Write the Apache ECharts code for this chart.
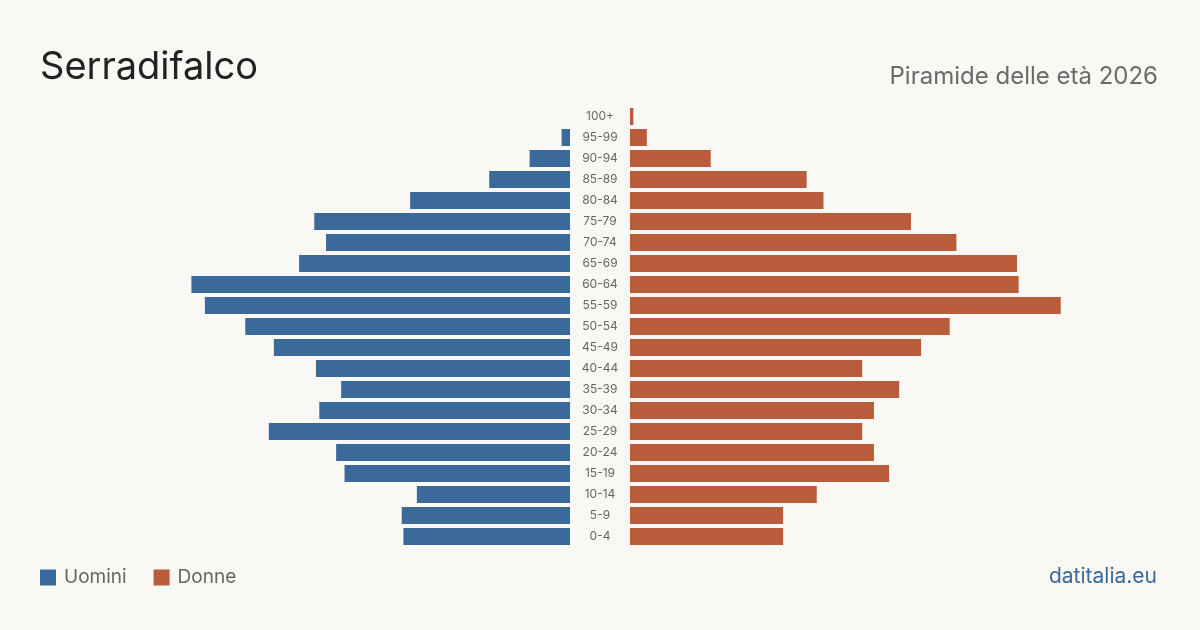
<!DOCTYPE html>
<html>
<head>
<meta charset="utf-8">
<style>
    html, body { margin: 0; padding: 0; background: #f9f8f4; }
    #pyramid { width: 1200px; height: 630px; }
</style>
</head>
<body>
<div id="pyramid"></div>
<script src="https://cdn.jsdelivr.net/npm/echarts@6/dist/echarts.min.js"></script>
<script>
    // classi di età, dal basso verso l'alto
    var ageGroups = ['0-4', '5-9', '10-14', '15-19', '20-24', '25-29', '30-34', '35-39', '40-44', '45-49',
        '50-54', '55-59', '60-64', '65-69', '70-74', '75-79', '80-84', '85-89', '90-94', '95-99', '100+'];
    var uomini = [99, 100, 91, 134, 139, 179, 149, 136, 151, 176, 193, 217, 225, 161, 145, 152, 95, 48, 24, 5, 0];
    var donne = [91, 91, 111, 154, 145, 138, 145, 160, 138, 173, 190, 256, 231, 230, 194, 167, 115, 105, 48, 10, 2];
    var axisMax = 315;

    var font = 'Inter, "Noto Sans", sans-serif';
    var blue = '#3b6a9a', orange = '#b95c3c';

    var myChart = echarts.init(document.getElementById('pyramid'));
    var option = {
        backgroundColor: '#f9f8f4',
        animation: false,
        title: [
            {
                text: 'Serradifalco', left: 35, top: 44,
                textStyle: {fontFamily: font, fontSize: 38, fontWeight: 'normal', color: '#222'}
            },
            {
                text: 'Piramide delle età 2026', right: 37, top: 60,
                textStyle: {fontFamily: font, fontSize: 24, fontWeight: 'normal', color: '#6b6b6b'}
            },
            {
                text: 'datitalia.eu', right: 38, top: 561,
                textStyle: {fontFamily: font, fontSize: 21, fontWeight: 'normal', color: blue}
            }
        ],
        legend: {
            left: 40, top: 568, padding: 0,
            itemWidth: 16, itemHeight: 16, itemGap: 27,
            icon: 'rect', selectedMode: false,
            textStyle: {fontFamily: font, fontSize: 19, color: '#666', padding: [0, 0, 0, 3]},
            data: ['Uomini', 'Donne']
        },
        grid: [
            {left: 40, right: 630, top: 106, height: 441},
            {left: 630, right: 40, top: 106, height: 441}
        ],
        xAxis: [
            {gridIndex: 0, type: 'value', inverse: true, min: 0, max: axisMax, show: false},
            {gridIndex: 1, type: 'value', min: 0, max: axisMax, show: false}
        ],
        yAxis: [
            {
                gridIndex: 0, type: 'category', data: ageGroups, position: 'right',
                axisLine: {show: false}, axisTick: {show: false},
                axisLabel: {align: 'center', margin: 30, fontFamily: font, fontSize: 12, color: '#666'}
            },
            {gridIndex: 1, type: 'category', data: ageGroups, show: false}
        ],
        series: [
            {
                name: 'Uomini', type: 'bar', xAxisIndex: 0, yAxisIndex: 0,
                data: uomini, barWidth: 17, itemStyle: {color: blue}
            },
            {
                name: 'Donne', type: 'bar', xAxisIndex: 1, yAxisIndex: 1,
                data: donne, barWidth: 17, itemStyle: {color: orange}
            }
        ]
    };
    myChart.setOption(option);
</script>
</body>
</html>
